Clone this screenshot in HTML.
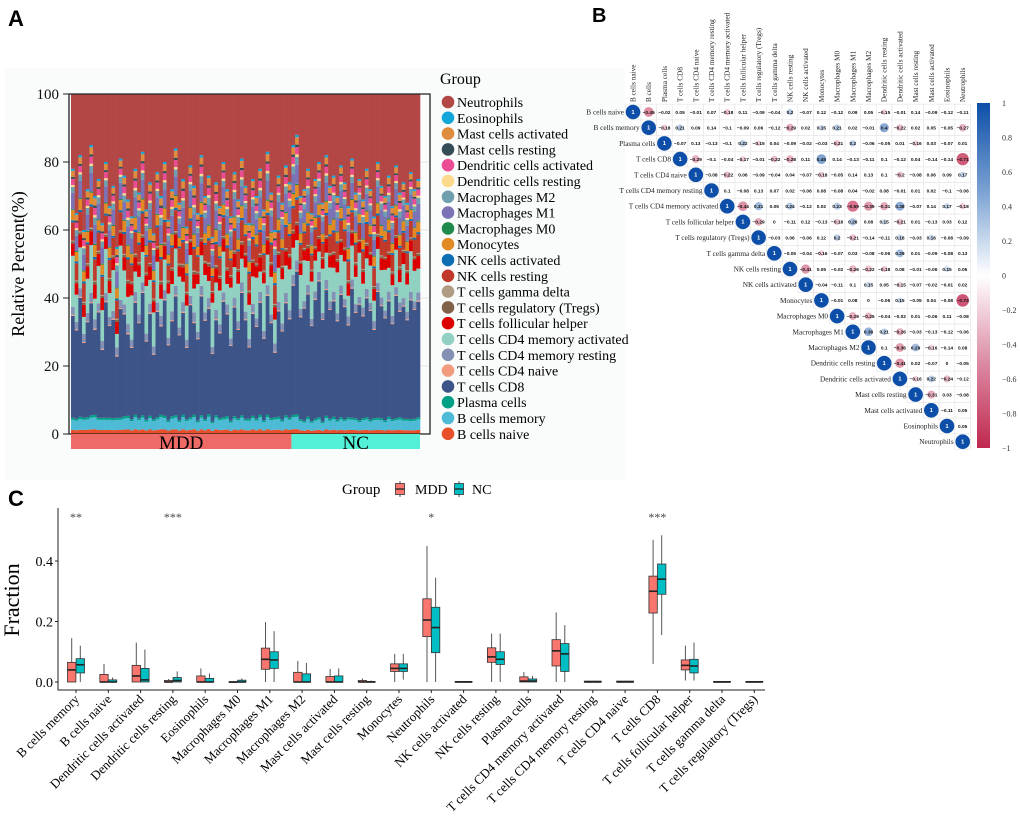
<!DOCTYPE html>
<html><head><meta charset="utf-8">
<style>
html,body{margin:0;padding:0;background:#fff;}
svg{display:block;}
text{font-family:"Liberation Serif",serif;}
.sans{font-family:"Liberation Sans",sans-serif;font-weight:bold;}
</style></head>
<body>
<svg id="fig" width="1020" height="827" viewBox="0 0 1020 827" xmlns="http://www.w3.org/2000/svg">
<text class="sans" x="8" y="26" font-size="22">A</text>
<text class="sans" x="592" y="22" font-size="20">B</text>
<text class="sans" x="8" y="506" font-size="22">C</text>
<rect x="5" y="68" width="620" height="412" fill="#fafbfb"/>
<g id="pa"></g>
<g id="pb"></g>
<g id="pc"></g>
</svg>
<script>
const NS='http://www.w3.org/2000/svg';
function mk(parent,tag,attrs,txt){const e=document.createElementNS(NS,tag);for(const k in attrs)e.setAttribute(k,attrs[k]);if(txt!==undefined)e.textContent=txt;parent.appendChild(e);return e;}

// ===== Panel A data =====
const cellTypes=["B cells naive","B cells memory","Plasma cells","T cells CD8","T cells CD4 naive","T cells CD4 memory resting","T cells CD4 memory activated","T cells follicular helper","T cells regulatory (Tregs)","T cells gamma delta","NK cells resting","NK cells activated","Monocytes","Macrophages M0","Macrophages M1","Macrophages M2","Dendritic cells resting","Dendritic cells activated","Mast cells resting","Mast cells activated","Eosinophils","Neutrophils"];
const cellColors=["#E8502C","#4DBBD5","#00A087","#3C5488","#F39B7F","#8491B4","#91D1C2","#DC0000","#7E6148","#B09C85","#C0392B","#0F6FB5","#E28A24","#1E8A4C","#7B73B5","#6F9FAF","#FDD98C","#EC4C93","#344D56","#E08C3E","#12A6DB","#B24745"];
const otherMeans=[2,5,1,0,0.5,4,0,6,1,0.5,9,1,5,0.5,8,3,1,3,1,3,1,0];
const groupsA=["MDD","NC"];
const mddNeut=[22,35,18,40,28,15,30,25,38,20,33,27,45,19,24,31,36,22,29,17,34,26,41,23,30,20,37,28,16,32,25,39,21,27,35,18,30,24,42,26,33,20,28,36,23,31,19,27,38,25,30,22,34,17,29,40,24,32,21,26];
const ncNeut=[15,12,30,28,22,35,25,20,32,18,27,24,30,21,26,33,19,29,25,31,22,28,36,20,27,30,24,33,21,29,26,32,23,28,25];
const mddCD8=[30,26,35,22,28,33,25,31,20,34,27,29,18,32,30,24,21,33,28,36,23,30,19,31,26,34,22,28,35,25,30,21,33,27,24,35,29,31,20,28,25,34,30,22,32,26,36,29,21,30,27,33,24,35,28,19,31,26,33,29];
const ncCD8=[38,42,30,33,36,28,35,40,30,37,32,34,29,36,33,27,38,31,34,30,35,32,26,37,33,30,34,28,36,31,33,29,35,32,34];
const mddAct=[15,8,12,5,10,14,6,11,9,13,7,12,4,16,10,8,13,6,11,9,14,7,10,12,5,9,13,8,11,15,6,10,12,7,14,9,11,5,13,8,10,12,6,15,9,11,7,13,10,8,12,6,14,9,11,7,10,13,8,12];
const ncAct=[8,6,10,12,7,11,9,6,13,8,10,7,12,9,11,6,10,8,13,7,9,11,6,10,8,12,7,9,11,6,10,8,12,9,7];
const yTicksA=[0,20,40,60,80,100];

// ===== Panel B data =====
const corrLabels=cellTypes.slice(0,21).concat(["Neutrophils"]);
const corrRows=[
[1,-0.45,-0.02,0.05,-0.01,0.07,-0.18,0.11,-0.09,-0.04,0.2,-0.07,0.12,-0.12,0.09,0.05,-0.15,-0.01,0.14,-0.09,-0.12,-0.11],
[1,-0.18,0.21,0.09,0.14,-0.1,-0.09,0.06,-0.12,-0.29,0.02,0.15,0.21,0.02,-0.01,0.4,-0.22,0.02,0.05,-0.05,-0.27],
[1,-0.07,0.13,-0.13,-0.1,0.22,-0.15,0.04,-0.09,-0.02,-0.03,-0.21,0.2,-0.06,-0.05,0.01,-0.16,0.03,-0.07,0.01],
[1,-0.29,-0.1,-0.04,-0.17,-0.01,-0.22,-0.28,0.11,0.45,0.14,-0.13,-0.11,0.1,-0.12,0.04,-0.14,-0.14,-0.71],
[1,-0.08,-0.22,0.06,-0.09,-0.04,0.04,-0.07,-0.18,-0.05,0.14,0.13,0.1,-0.2,-0.08,0.06,0.09,0.17],
[1,0.1,-0.08,0.13,0.07,0.02,-0.06,0.08,-0.08,0.04,-0.02,0.08,-0.01,0.01,0.02,-0.1,-0.06],
[1,-0.44,0.31,0.05,0.24,-0.12,0.02,0.23,-0.59,-0.39,-0.31,0.38,-0.07,0.14,0.17,-0.18],
[1,-0.29,0,-0.11,0.12,-0.13,-0.18,0.26,0.08,0.15,-0.21,0.01,-0.13,0.03,0.12],
[1,-0.03,0.06,-0.06,0.12,0.2,-0.21,-0.14,-0.11,0.18,-0.03,0.16,-0.08,-0.09],
[1,-0.05,-0.04,-0.16,-0.07,0.03,-0.08,-0.06,0.29,0.01,-0.09,-0.08,0.13],
[1,-0.41,0.05,-0.02,-0.26,-0.22,-0.18,0.08,-0.01,-0.06,0.15,0.06],
[1,-0.04,-0.11,0.1,0.15,0.05,-0.15,-0.07,-0.02,-0.01,0.02],
[1,-0.01,0.08,0,-0.06,0.15,-0.05,0.04,-0.08,-0.74],
[1,-0.29,-0.25,-0.04,-0.02,0.01,-0.06,0.11,-0.08],
[1,0.36,0.21,-0.26,-0.03,-0.13,-0.12,-0.06],
[1,0.1,-0.36,0.29,-0.16,-0.14,0.08],
[1,-0.41,0.02,-0.07,0,-0.05],
[1,-0.16,0.22,-0.24,-0.12],
[1,-0.31,0.03,-0.08],
[1,-0.11,0.05],
[1,0.05],
[1]];
const colTopLabels=["B cells naive","B cells","Plasma cells","T cells CD8","T cells CD4 naive","T cells CD4 memory resting","T cells CD4 memory activated","T cells follicular helper","T cells regulatory (Tregs)","T cells gamma delta","NK cells resting","NK cells activated","Monocytes","Macrophages M0","Macrophages M1","Macrophages M2","Dendritic cells resting","Dendritic cells activated","Mast cells resting","Mast cells activated","Eosinophils","Neutrophils"];
const cbTicks=[1,0.8,0.6,0.4,0.2,0,-0.2,-0.4,-0.6,-0.8,-1];

// ===== Panel C data =====
const boxCats=["B cells memory","B cells naive","Dendritic cells activated","Dendritic cells resting","Eosinophils","Macrophages M0","Macrophages M1","Macrophages M2","Mast cells activated","Mast cells resting","Monocytes","Neutrophils","NK cells activated","NK cells resting","Plasma cells","T cells CD4 memory activated","T cells CD4 memory resting","T cells CD4 naive","T cells CD8","T cells follicular helper","T cells gamma delta","T cells regulatory (Tregs)"];
// [whiskerLow, q1, median, q3, whiskerHigh]
const mddBox=[[0,0,0.04,0.065,0.145],[0,0,0,0.025,0.06],[0,0,0.02,0.055,0.13],[0,0,0,0.005,0.01],[0,0,0,0.02,0.045],[0,0,0,0.001,0.002],[0,0.042,0.075,0.112,0.198],[0,0,0,0.032,0.07],[0,0,0,0.018,0.043],[0,0,0,0.005,0.012],[0,0.035,0.045,0.06,0.093],[0,0.15,0.205,0.275,0.45],[0,0,0,0.002,0.003],[0,0.065,0.083,0.113,0.16],[0,0,0.003,0.017,0.033],[0,0.053,0.103,0.14,0.23],[0,0,0,0.003,0.004],[0,0,0,0.003,0.004],[0.06,0.228,0.3,0.35,0.47],[0.005,0.04,0.055,0.073,0.12],[0,0,0,0.002,0.003],[0,0,0,0.002,0.003]];
const ncBox=[[0,0.03,0.057,0.077,0.12],[0,0,0,0.007,0.015],[0,0,0.007,0.045,0.107],[0,0,0.005,0.015,0.035],[0,0,0,0.012,0.028],[0,0,0,0.006,0.012],[0,0.045,0.073,0.1,0.168],[0,0,0,0.027,0.063],[0,0,0,0.02,0.045],[0,0,0,0.002,0.005],[0.008,0.035,0.045,0.06,0.093],[0,0.097,0.18,0.247,0.345],[0,0,0,0.002,0.003],[0,0.058,0.075,0.1,0.16],[0,0,0.003,0.01,0.02],[0,0.035,0.093,0.127,0.188],[0,0,0,0.003,0.004],[0,0,0,0.003,0.004],[0.155,0.29,0.34,0.39,0.485],[0.005,0.03,0.053,0.075,0.13],[0,0,0,0.002,0.003],[0,0,0,0.002,0.003]];
const sigLabels=["**","","","***","","","","","","","","*","","","","","","","***","","",""];
const yTicksC=[0,0.2,0.4];

// ===== Draw panel A =====
(function(){
const g=document.getElementById('pa');
const X0=71,X1=420,Y0=434,Y100=94;
const yA=v=>Y0-(v/100)*(Y0-Y100);
const samples=[];
mddNeut.forEach((n,i)=>samples.push({g:0,neut:n,cd8:mddCD8[i],act:mddAct[i]}));
ncNeut.forEach((n,i)=>samples.push({g:1,neut:n,cd8:ncCD8[i],act:ncAct[i]}));
const bw=(X1-X0)/samples.length;
const xA=i=>X0+i*bw;
yTicksA.forEach(t=>{
  const l=mk(g,'line',{x1:X0-4,x2:430,y1:yA(t),y2:yA(t),stroke:'#e6e6e6','stroke-width':1});
  
  
  const tl=mk(g,'text',{x:X0-12,y:yA(t)+5,'font-size':15,'text-anchor':'end',fill:'#111'},String(t));
  
  
  const tk=mk(g,'line',{x1:X0-8,x2:X0-2,y1:yA(t),y2:yA(t),stroke:'#222'});
  
  
});
const otherSum=otherMeans.reduce((a,b)=>a+b,0);
samples.forEach((s,i)=>{
  const rem=100-s.neut-s.cd8-s.act;
  let acc=0;
  cellTypes.forEach((c,k)=>{
    let v;
    if(k===21)v=s.neut;else if(k===3)v=s.cd8;else if(k===6)v=s.act;else v=otherMeans[k]/otherSum*rem;
    const r=mk(g,'rect',{x:xA(i),y:yA(acc+v),width:bw+0.3,height:yA(acc)-yA(acc+v),fill:cellColors[k]});
    
    
    acc+=v;
  });
});
const fr=mk(g,'path',{d:`M${X0-2},${Y100} V${Y0} H430 V${Y100} H${X0-2}`,fill:'none',stroke:'#222','stroke-width':1.3});


const nM=mddNeut.length;
const gm=mk(g,'rect',{x:X0,y:Y0,width:nM*bw,height:15,fill:'#EE6A67'});


const gn=mk(g,'rect',{x:X0+nM*bw,y:Y0,width:(samples.length-nM)*bw,height:15,fill:'#52F0D6'});


const tm=mk(g,'text',{x:X0+nM*bw/2,y:Y0+15,'font-size':19,'text-anchor':'middle'},groupsA[0]);


const tn=mk(g,'text',{x:X0+nM*bw+(samples.length-nM)*bw/2,y:Y0+15,'font-size':19,'text-anchor':'middle'},groupsA[1]);


const yl=mk(g,'text',{x:0,y:0,'font-size':18,'text-anchor':'middle',transform:`translate(24,264) rotate(-90)`},'Relative Percent(%)');


const lt=mk(g,'text',{x:440,y:84,'font-size':16},'Group');


for(let k=21;k>=0;k--){
  const idx=21-k;const y=102+idx*15.8;
  const c=mk(g,'circle',{cx:448,cy:y,r:6.3,fill:cellColors[k]});
  
  
  const t=mk(g,'text',{x:457,y:y+5,'font-size':14},cellTypes[k]);
  
  
}
})();

// ===== Draw panel B =====
(function(){
const g=document.getElementById('pb');
const cx0=633,cy0=112,st=15.7;
function col(v){
  const a=Math.abs(v);
  const end=v>=0?[13,79,168]:[192,40,79];
  const c=[0,1,2].map(i=>Math.round(255+(end[i]-255)*Math.pow(a,0.8)));
  return `rgb(${c[0]},${c[1]},${c[2]})`;
}
for(let i=0;i<22;i++){
  for(let j=i;j<22;j++){
    const x=cx0+j*st,y=cy0+i*st;
    const r=mk(g,'rect',{x:x-st/2,y:y-st/2,width:st,height:st,fill:'#fff',stroke:'#e4e4e4','stroke-width':0.6});
    
    
  }
}
corrRows.forEach((row,i)=>{
  row.forEach((v,k)=>{
    const j=i+k;const x=cx0+j*st,y=cy0+i*st;
    const rad=Math.max(0.5,Math.sqrt(Math.abs(v))*7.3);
    if(Math.abs(v)>=0.15||k===0){
      const c=mk(g,'circle',{cx:x,cy:y,r:rad,fill:col(v)});
      
      
    }
    const t=mk(g,'text',{x:x,y:y+1.8,'font-size':k===0?5.5:4.8,'font-weight':'bold','text-anchor':'middle',fill:k===0?'#fff':'#111',style:'font-family:"Liberation Sans",sans-serif'},k===0?'1':(v===0?'0':String(v).replace('-','\u2212')));
    
    
  });
  const rl=mk(g,'text',{x:cx0+i*st-9,y:cy0+i*st+2.5,'font-size':7.3,'text-anchor':'end',fill:'#222'},corrLabels[i]);
  
  
});
colTopLabels.forEach((l,j)=>{
  const x=cx0+j*st+2.5,y=cy0-st/2-2;
  const t=mk(g,'text',{x:0,y:0,'font-size':7.3,transform:`translate(${x},${y}) rotate(-90)`,fill:'#222'},l);
  
  
});
const defs=mk(g,'defs',{});
const lg=mk(defs,'linearGradient',{id:'cbg',x1:0,y1:0,x2:0,y2:1});
[[0,'rgb(13,79,168)'],[0.25,'rgb(120,160,210)'],[0.5,'#fff'],[0.75,'rgb(220,140,165)'],[1,'rgb(192,40,79)']].forEach(s=>mk(lg,'stop',{offset:s[0],'stop-color':s[1]}));
const cb=mk(g,'rect',{x:977,y:103,width:13,height:345,fill:'url(#cbg)'});


const cbY=v=>103+(1-v)/2*345;
cbTicks.forEach(t=>{
  const tt=mk(g,'text',{x:1002,y:cbY(t)+3,'font-size':8,fill:'#333'},String(t).replace('-','\u2212'));
  
  
});
})();

// ===== Draw panel C =====
(function(){
const g=document.getElementById('pc');
const AX=58,Y0=682,perUnit=(682-561)/0.4;
const yC=v=>Y0-v*perUnit;
const xC=i=>76+i*32.3;
const ax=mk(g,'path',{d:`M${AX},508 V690 H765`,fill:'none',stroke:'#222','stroke-width':1});


yTicksC.forEach(t=>{
  const tl=mk(g,'text',{x:AX-5,y:yC(t)+5,'font-size':14,'text-anchor':'end'},t.toFixed(1));
  
  
  const tk=mk(g,'line',{x1:AX-3,x2:AX,y1:yC(t),y2:yC(t),stroke:'#222'});
  
  
});
const yt=mk(g,'text',{x:0,y:0,'font-size':22,'text-anchor':'middle',transform:'translate(19,600) rotate(-90)'},'Fraction');


function box(d,cx,fill){
  const w=8.4;
  const wl=mk(g,'line',{x1:cx,x2:cx,y1:yC(d[0]),y2:yC(d[4]),stroke:'#555','stroke-width':1});
  
  
  const r=mk(g,'rect',{x:cx-w/2,y:yC(d[3]),width:w,height:Math.max(0.8,yC(d[1])-yC(d[3])),fill:fill,stroke:'#333','stroke-width':0.8});
  
  
  const m=mk(g,'line',{x1:cx-w/2,x2:cx+w/2,y1:yC(d[2]),y2:yC(d[2]),stroke:'#222','stroke-width':1.6});
  
  
}
boxCats.forEach((c,i)=>{
  box(mddBox[i],xC(i)-4.3,'#F8766D');
  box(ncBox[i],xC(i)+4.3,'#00BFC4');
  const tk=mk(g,'line',{x1:xC(i),x2:xC(i),y1:690,y2:693,stroke:'#222'});
  
  
  const t=mk(g,'text',{x:0,y:0,'font-size':13,'text-anchor':'end',transform:`translate(${xC(i)+4},${700}) rotate(-45)`},c);
  
  
  if(sigLabels[i]){
    const s=mk(g,'text',{x:xC(i),y:521,'font-size':12,'text-anchor':'middle',fill:'#444'},sigLabels[i]);
    
    
  }
});
const lt=mk(g,'text',{x:342,y:494,'font-size':15},'Group');


[['MDD','#F8766D',400,415],['NC','#00BFC4',459,472]].forEach(e=>{
  const l=mk(g,'line',{x1:e[2],x2:e[2],y1:481,y2:497,stroke:'#555'});
  
  
  const r=mk(g,'rect',{x:e[2]-4.5,y:483.5,width:9,height:11,fill:e[1],stroke:'#333','stroke-width':0.8});
  
  
  const m=mk(g,'line',{x1:e[2]-4.5,x2:e[2]+4.5,y1:489,y2:489,stroke:'#222','stroke-width':1.3});
  
  
  const t=mk(g,'text',{x:e[3],y:494,'font-size':14},e[0]);
  
  
});
})();
</script>
</body></html>
